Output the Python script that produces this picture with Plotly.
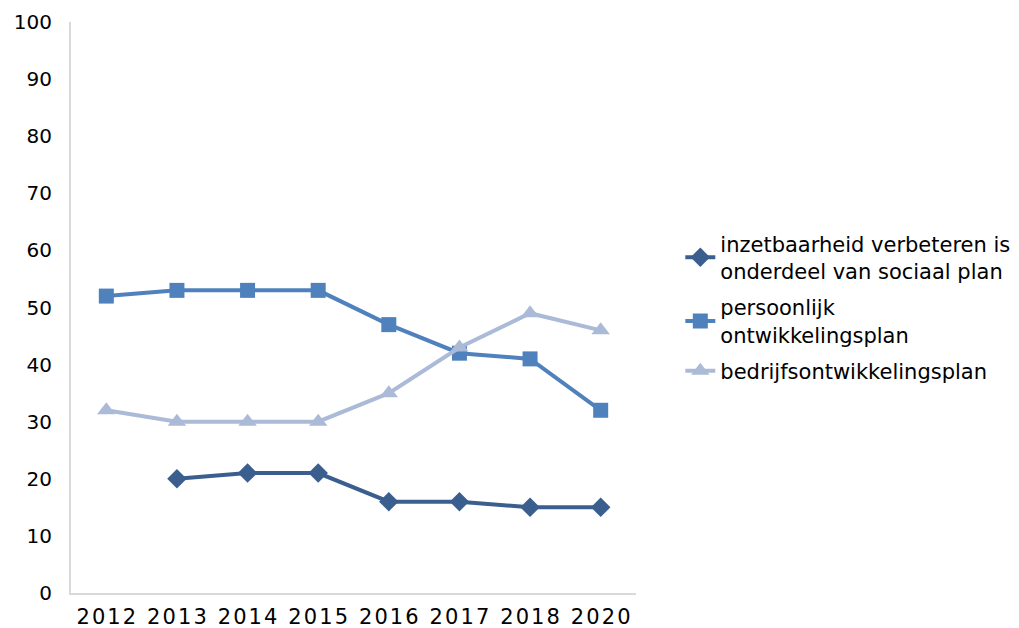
import plotly.graph_objects as go

# Jaren (categorieën op de x-as)
jaren = ["2012", "2013", "2014", "2015", "2016", "2017", "2018", "2020"]

# Reeksen (percentages)
inzetbaarheid = [None, 20, 21, 21, 16, 16, 15, 15]
persoonlijk = [52, 53, 53, 53, 47, 42, 41, 32]
bedrijfs = [32, 30, 30, 30, 35, 43, 49, 46]

namen = [
    "inzetbaarheid verbeteren is<br>onderdeel van sociaal plan",
    "persoonlijk<br>ontwikkelingsplan",
    "bedrijfsontwikkelingsplan",
]

y_ticks = list(range(0, 101, 10))

font_naam = "DejaVu Sans"

fig = go.Figure()

fig.add_trace(go.Scatter(
    x=jaren, y=inzetbaarheid, name=namen[0], mode="lines+markers",
    legendgroup="a",
    line=dict(color="#3A5F8F", width=4),
    marker=dict(symbol="diamond", size=15, color="#3A5F8F"),
))
fig.add_trace(go.Scatter(
    x=jaren, y=persoonlijk, name=namen[1], mode="lines+markers",
    legendgroup="b",
    line=dict(color="#4F81BD", width=4),
    marker=dict(symbol="square", size=15, color="#4F81BD"),
))
fig.add_trace(go.Scatter(
    x=jaren, y=bedrijfs, name=namen[2], mode="lines+markers",
    legendgroup="c",
    line=dict(color="#AABAD7", width=4),
    marker=dict(symbol="triangle-up", size=16, color="#AABAD7"),
))

# Verdana-achtige letterafstand op de jaartallen
jaar_tekst = ["\u200a".join(j) for j in jaren]

# de pagina zet de grafiek 8px van de rand, daarom iets kleiner
fig.update_layout(
    width=1011,
    height=620,
    margin=dict(l=63, r=383, t=14, b=35, autoexpand=False),
    paper_bgcolor="white",
    plot_bgcolor="white",
    font=dict(family=font_naam, size=20, color="#000000"),
    showlegend=True,
    legend=dict(
        xref="container", x=0.665, y=0.5, xanchor="left", yanchor="middle",
        font=dict(size=21, family=font_naam),
        bgcolor="rgba(0,0,0,0)",
        tracegroupgap=6,
    ),
    xaxis=dict(
        type="category",
        range=[-0.5, 7.5],
        tickvals=jaren,
        ticktext=jaar_tekst,
        showline=True,
        linecolor="#D9D9D9",
        linewidth=2,
        showgrid=False,
        zeroline=False,
        ticks="outside",
        ticklen=4,
        tickcolor="rgba(0,0,0,0)",
        tickfont=dict(size=21),
        automargin=False,
    ),
    yaxis=dict(
        range=[0, 100],
        tickvals=y_ticks,
        showline=True,
        linecolor="#D9D9D9",
        linewidth=2,
        showgrid=False,
        zeroline=False,
        ticks="outside",
        ticklen=13,
        tickcolor="rgba(0,0,0,0)",
        tickfont=dict(size=20),
        automargin=False,
    ),
)

fig.write_html("out.html")
